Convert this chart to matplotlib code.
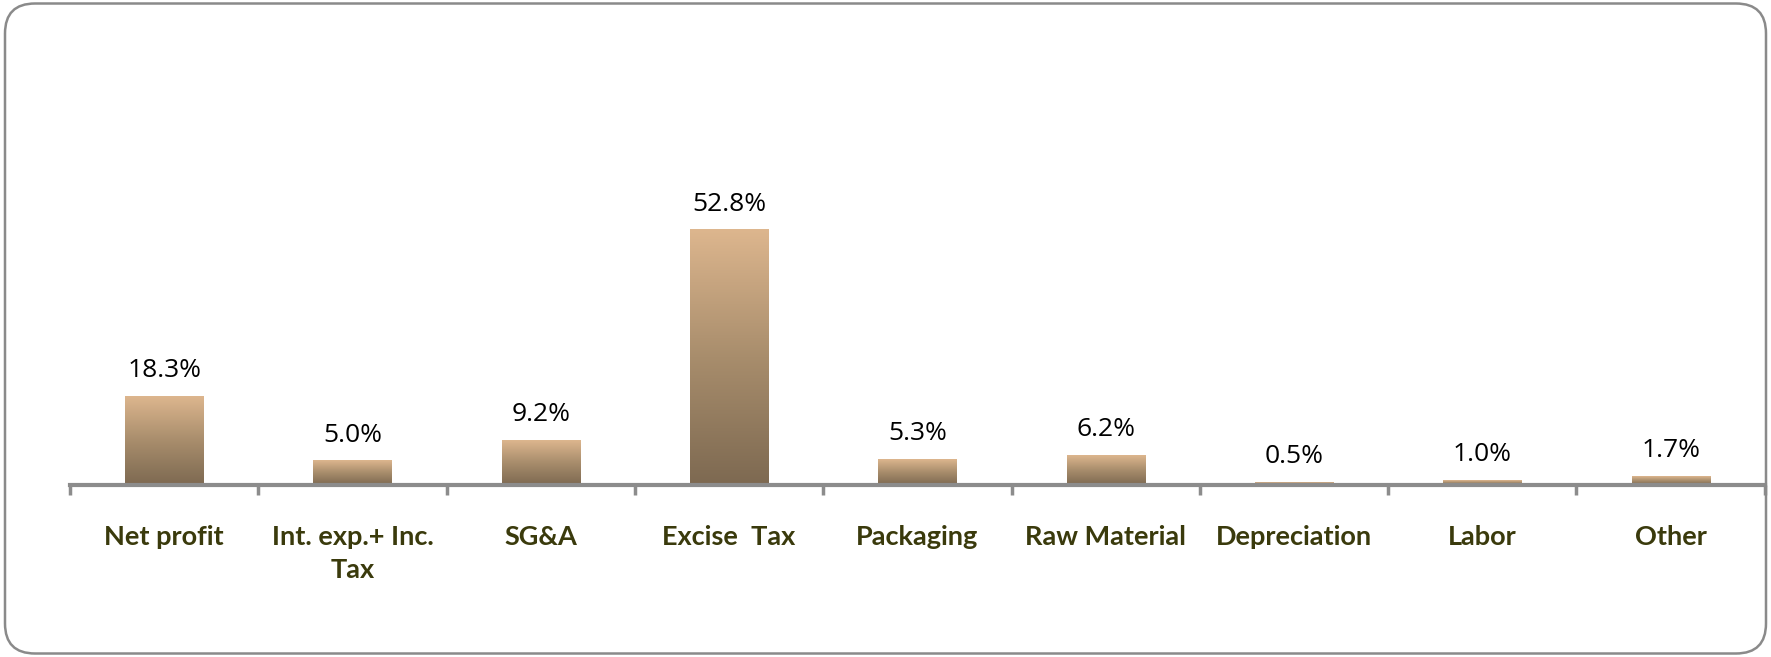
import numpy as np
import matplotlib.pyplot as plt
from matplotlib.patches import FancyBboxPatch
from matplotlib.colors import LinearSegmentedColormap

categories = ['Net profit', 'Int. exp.+ Inc.\nTax', 'SG&A', 'Excise  Tax', 'Packaging',
              'Raw Material', 'Depreciation', 'Labor', 'Other']
values = [18.3, 5.0, 9.2, 52.8, 5.3, 6.2, 0.5, 1.0, 1.7]
labels = ['18.3%', '5.0%', '9.2%', '52.8%', '5.3%', '6.2%', '0.5%', '1.0%', '1.7%']

fig = plt.figure(figsize=(17.71, 6.57), dpi=100)

# rounded chart border (inches)
border = FancyBboxPatch((0.05, 0.035), 17.61, 6.50,
                        boxstyle="round,pad=0,rounding_size=0.3",
                        transform=fig.dpi_scale_trans, facecolor='none',
                        edgecolor='#8a8a8a', linewidth=1.8, zorder=5)
fig.patches.append(border)

ax = fig.add_axes([0.0395, 0.262, 0.957, 0.647])
ax.set_facecolor('none')

grad = LinearSegmentedColormap.from_list('tan', ['#7d6951', '#a88d6c', '#ddb68e'])
g = np.linspace(0, 1, 256).reshape(-1, 1)
width = 0.415
x = np.arange(len(values))
for xi, v, lab in zip(x, values, labels):
    ax.imshow(g, cmap=grad, origin='lower', aspect='auto',
              extent=[xi - width / 2, xi + width / 2, 0, v], zorder=2)
    ax.annotate(lab, (xi, v), xytext=(0, 18.5), textcoords='offset points',
                ha='center', va='center', fontsize=19, family='Open Sans',
                color='black')

ax.set_xlim(-0.5, len(values) - 0.5)
ax.set_ylim(0, 88)

for s in ['top', 'right', 'left']:
    ax.spines[s].set_visible(False)
ax.spines['bottom'].set_color('#8c8c8c')
ax.spines['bottom'].set_linewidth(3)
ax.spines['bottom'].set_zorder(3)
ax.set_yticks([])

ax.set_xticks(np.arange(-0.5, len(values), 1.0))
ax.set_xticklabels([])
ax.tick_params(axis='x', which='major', length=7, width=2.5, color='#8c8c8c')
ax.set_xticks(x, minor=True)
ax.set_xticklabels(categories, minor=True, fontsize=19.5, fontweight='bold',
                   family='Lato', color='#3a3a0c', linespacing=1.44)
ax.tick_params(axis='x', which='minor', length=0, pad=29)
for t in ax.get_xticklabels(minor=True):
    t.set_verticalalignment('top')

fig.savefig('out.png', dpi=100)
